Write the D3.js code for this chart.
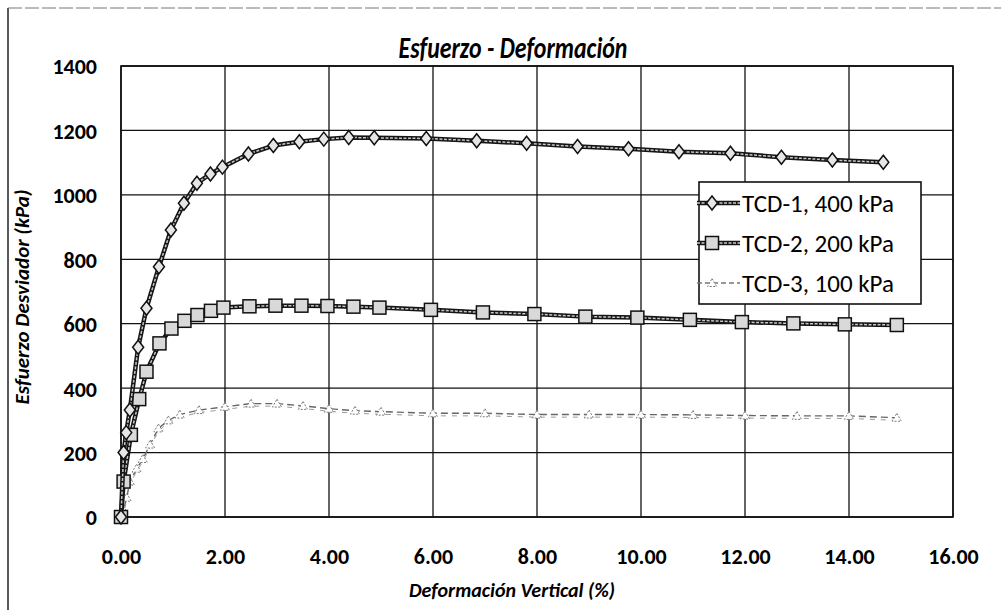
<!DOCTYPE html>
<html>
<head>
<meta charset="utf-8">
<script src="https://cdn.jsdelivr.net/npm/d3@7/dist/d3.min.js"></script>
<style>
  body { margin: 0; background: #fff; }
  svg { display: block; }
  text { font-family: Carlito, Lato, "Open Sans", sans-serif; fill: #000; }
</style>
</head>
<body>
<svg id="chart" width="1001" height="610"></svg>
<script>
// Triaxial test results: deviator stress vs. vertical strain
const seriesNames = ["TCD-1, 400 kPa", "TCD-2, 200 kPa", "TCD-3, 100 kPa"];

const tcd1Strain = [0, 0.05, 0.10, 0.17, 0.33, 0.49, 0.73, 0.96, 1.21, 1.46, 1.72, 1.95, 2.45, 2.93, 3.43, 3.90, 4.38, 4.87, 5.87, 6.84, 7.80, 8.78, 9.76, 10.73, 11.72, 12.70, 13.68, 14.66];
const tcd1Stress = [0, 200, 262, 332, 527, 648, 777, 891, 974, 1036, 1065, 1086, 1127, 1153, 1165, 1173, 1178, 1177, 1175, 1168, 1160, 1150, 1143, 1134, 1129, 1117, 1108, 1101];

const tcd2Strain = [0, 0.05, 0.19, 0.35, 0.49, 0.74, 0.97, 1.22, 1.47, 1.73, 1.97, 2.47, 2.97, 3.47, 3.97, 4.47, 4.97, 5.96, 6.96, 7.95, 8.93, 9.93, 10.94, 11.94, 12.93, 13.92, 14.92];
const tcd2Stress = [0, 110, 255, 366, 451, 539, 585, 609, 627, 640, 650, 654, 656, 656, 655, 653, 650, 643, 635, 630, 622, 619, 612, 605, 601, 598, 596];

const tcd3Strain = [0, 0.05, 0.11, 0.17, 0.30, 0.42, 0.56, 0.72, 0.91, 1.13, 1.50, 2.00, 2.50, 3.00, 3.50, 4.00, 4.50, 5.00, 6.00, 7.00, 8.00, 9.00, 10.00, 11.00, 12.00, 13.00, 14.00, 14.92];
const tcd3Stress = [0, 20, 60, 110, 150, 180, 225, 275, 300, 318, 332, 342, 352, 352, 345, 336, 330, 327, 322, 322, 318, 318, 318, 317, 315, 314, 314, 308];

const xTicks = [0, 2, 4, 6, 8, 10, 12, 14, 16];
const yTicks = [0, 200, 400, 600, 800, 1000, 1200, 1400];

const titleText = "Esfuerzo - Deformación";
const xTitle = "Deformación Vertical (%)";
const yTitle = "Esfuerzo Desviador (kPa)";

const svg = d3.select("#chart");

const x = d3.scaleLinear().domain([0, 16]).range([121, 953]);
const y = d3.scaleLinear().domain([0, 1400]).range([517, 66]);

// outer chart frame
svg.append("line").attr("x1", 8).attr("x2", 8).attr("y1", 8).attr("y2", 610)
  .attr("stroke", "#222").attr("stroke-width", 1.5);
svg.append("line").attr("x1", 8).attr("x2", 1001).attr("y1", 8).attr("y2", 8)
  .attr("stroke", "#777").attr("stroke-width", 1).attr("stroke-dasharray", "14,3");

// gridlines
const grid = svg.append("g");
grid.selectAll("line.gx").data(xTicks).join("line")
  .attr("x1", d => x(d)).attr("x2", d => x(d))
  .attr("y1", y(0)).attr("y2", y(1400))
  .attr("stroke", "#111").attr("stroke-width", 1.3);
grid.selectAll("line.gy").data(yTicks).join("line")
  .attr("x1", x(0)).attr("x2", x(16))
  .attr("y1", d => y(d)).attr("y2", d => y(d))
  .attr("stroke", "#111").attr("stroke-width", 1.3);
svg.append("rect").attr("x", x(0)).attr("y", y(1400))
  .attr("width", x(16) - x(0)).attr("height", y(0) - y(1400))
  .attr("fill", "none").attr("stroke", "#111").attr("stroke-width", 1.6);

// axes (tick labels only)
const xAxis = d3.axisBottom(x).tickValues(xTicks).tickFormat(d3.format(".2f")).tickSize(0).tickPadding(0);
const gx = svg.append("g").attr("transform", `translate(0,${y(0) + 47})`).call(xAxis);
gx.select(".domain").remove();
gx.selectAll("text").attr("dy", 0).style("font-size", "22px").style("font-weight", "900");

const yAxis = d3.axisLeft(y).tickValues(yTicks).tickFormat(d3.format("d")).tickSize(0).tickPadding(0);
const gy = svg.append("g").attr("transform", `translate(97,0)`).call(yAxis);
gy.select(".domain").remove();
gy.selectAll("text").attr("dy", "0.36em").style("font-size", "22px").style("font-weight", "900");

// titles (horizontally condensed to a narrow face)
svg.append("text").attr("transform", "translate(513,58) scale(0.77,1)").attr("text-anchor", "middle")
  .style("font-size", "31px").style("font-weight", "bold").style("font-style", "italic")
  .text(titleText);
svg.append("text").attr("x", 512).attr("y", 597).attr("text-anchor", "middle")
  .style("font-size", "20px").style("font-weight", "bold").style("font-style", "italic")
  .text(xTitle);
svg.append("text").attr("transform", "translate(29,297) rotate(-90)").attr("text-anchor", "middle")
  .style("font-size", "21px").style("font-weight", "bold").style("font-style", "italic")
  .text(yTitle);

// series
const series = [
  { name: seriesNames[0], xs: tcd1Strain, ys: tcd1Stress, marker: "diamond" },
  { name: seriesNames[1], xs: tcd2Strain, ys: tcd2Stress, marker: "square" },
  { name: seriesNames[2], xs: tcd3Strain, ys: tcd3Stress, marker: "triangle" }
];

const line = d3.line().x(d => x(d[0])).y(d => y(d[1]));

function drawMarker(g, kind, cx, cy) {
  if (kind === "diamond") {
    g.append("path").attr("d", `M${cx},${cy - 7}L${cx + 5.5},${cy}L${cx},${cy + 7}L${cx - 5.5},${cy}Z`)
      .attr("fill", "#e6e6e6").attr("stroke", "#111").attr("stroke-width", 1.5);
  } else if (kind === "square") {
    g.append("rect").attr("x", cx - 6.5).attr("y", cy - 6.5).attr("width", 13).attr("height", 13)
      .attr("fill", "#d9d9d9").attr("stroke", "#111").attr("stroke-width", 1.5);
  } else {
    g.append("path").attr("d", `M${cx},${cy - 4.5}L${cx + 4.5},${cy + 3.5}L${cx - 4.5},${cy + 3.5}Z`)
      .attr("fill", "#fff").attr("stroke", "#777").attr("stroke-width", 1).attr("stroke-dasharray", "2,1.5");
  }
}

function drawSeriesLine(g, s, pts) {
  if (s.marker === "triangle") {
    g.append("path").attr("d", line(pts)).attr("fill", "none")
      .attr("stroke", "#666").attr("stroke-width", 1.4).attr("stroke-dasharray", "7,4");
    g.append("path").attr("d", line(pts.map(p => [p[0], p[1] - 8]))).attr("fill", "none")
      .attr("stroke", "#999").attr("stroke-width", 1).attr("stroke-dasharray", "5,6");
  } else {
    g.append("path").attr("d", line(pts)).attr("fill", "none")
      .attr("stroke", "#151515").attr("stroke-width", 4.5).attr("stroke-linejoin", "round");
    g.append("path").attr("d", line(pts)).attr("fill", "none")
      .attr("stroke", "#c8c8c8").attr("stroke-width", 1.5).attr("stroke-dasharray", "3,1.5");
  }
}

series.slice().reverse().forEach(s => {
  const pts = s.xs.map((v, i) => [v, s.ys[i]]);
  const g = svg.append("g");
  drawSeriesLine(g, s, pts);
  pts.forEach(p => drawMarker(g, s.marker, x(p[0]), y(p[1])));
});

// legend
const legend = svg.append("g");
legend.append("rect").attr("x", 699).attr("y", 182).attr("width", 222).attr("height", 122)
  .attr("fill", "#fff").attr("stroke", "#111").attr("stroke-width", 1.6);
const legendY = [203, 243, 283];
const lx = d3.scaleLinear().domain([0, 1]).range([697, 740]);
series.forEach((s, i) => {
  const ly = legendY[i];
  const g = legend.append("g");
  if (s.marker === "triangle") {
    g.append("line").attr("x1", lx(0)).attr("x2", lx(1)).attr("y1", ly).attr("y2", ly)
      .attr("stroke", "#777").attr("stroke-width", 1.4).attr("stroke-dasharray", "5,3");
  } else {
    g.append("line").attr("x1", lx(0)).attr("x2", lx(1)).attr("y1", ly).attr("y2", ly)
      .attr("stroke", "#151515").attr("stroke-width", 4.5);
    g.append("line").attr("x1", lx(0)).attr("x2", lx(1)).attr("y1", ly).attr("y2", ly)
      .attr("stroke", "#c8c8c8").attr("stroke-width", 1.5).attr("stroke-dasharray", "3,1.5");
  }
  drawMarker(g, s.marker, 712, ly);
  g.append("text").attr("x", 742).attr("y", ly).attr("dy", "0.35em")
    .style("font-size", "25px").text(s.name);
});
</script>
</body>
</html>
